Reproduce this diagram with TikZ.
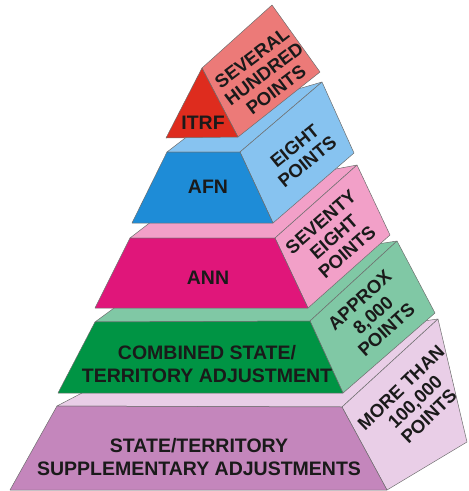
\documentclass[tikz,border=0pt]{standalone}
\usepackage{fontspec}
\setmainfont{Liberation Sans}
\definecolor{ink}{RGB}{26,26,26}
\definecolor{edge}{RGB}{110,110,110}
\definecolor{plumFront}{RGB}{196,134,188}
\definecolor{plumLight}{RGB}{233,206,231}
\definecolor{greenFront}{RGB}{0,148,68}
\definecolor{greenLight}{RGB}{128,200,165}
\definecolor{roseFront}{RGB}{224,22,122}
\definecolor{roseLight}{RGB}{242,160,200}
\definecolor{blueFront}{RGB}{30,140,215}
\definecolor{blueLight}{RGB}{135,195,240}
\definecolor{redFront}{RGB}{222,44,30}
\definecolor{redLight}{RGB}{236,122,120}
\begin{document}
\begin{tikzpicture}[x=1pt,y=-1pt,
  face/.style={draw=edge, line width=0.5pt, line join=round},
  frontlabel/.style={font=\bfseries\fontsize{19.5}{23.5}\selectfont, text=ink, align=center, inner sep=0pt},
  sidelabel/.style={font=\bfseries\fontsize{18.5}{20}\selectfont, text=ink, align=center, inner sep=0pt},
]
\useasboundingbox (0,0) rectangle (469,491);

% level 5: state/territory supplementary adjustments
\path[face, fill=plumLight] (57,406) -- (342,407) -- (438,319) -- (149,358) -- cycle;
\path[face, fill=plumLight] (342,407) -- (387,490) -- (467,442) -- (438,319) -- cycle;
\path[face, fill=plumFront] (10,490) -- (387,490) -- (342,407) -- (57,406) -- cycle;
\node[frontlabel] (stsa) at (199,457) {STATE/TERRITORY\\SUPPLEMENTARY ADJUSTMENTS};
\node[sidelabel, rotate=44] (stsaN) at (415,402) {MORE THAN\\100,000\\POINTS};

% level 4: combined state/territory adjustment
\path[face, fill=greenLight] (95,322) -- (310,321) -- (397,241) -- (155,278) -- cycle;
\path[face, fill=greenLight] (310,321) -- (343,393) -- (435,313) -- (397,241) -- cycle;
\path[face, fill=greenFront] (58,393) -- (343,393) -- (310,321) -- (95,322) -- cycle;
\node[frontlabel] (csta) at (207,364) {COMBINED STATE/\\TERRITORY ADJUSTMENT};
\node[sidelabel, rotate=42] (cstaN) at (373,315) {APPROX\\8,000\\POINTS};

% level 3: ANN
\path[face, fill=roseLight] (130,238) -- (275,238) -- (357,165) -- (182,198) -- cycle;
\path[face, fill=roseLight] (275,238) -- (308,308) -- (390,235) -- (357,165) -- cycle;
\path[face, fill=roseFront] (95,308) -- (308,308) -- (275,238) -- (130,238) -- cycle;
\node[frontlabel] (ann) at (208,278) {ANN};
\node[sidelabel, rotate=41] (annN) at (334,237) {SEVENTY\\EIGHT\\POINTS};

% level 2: AFN
\path[face, fill=blueLight] (167,152) -- (240,152) -- (322,82) -- (219,112) -- cycle;
\path[face, fill=blueLight] (240,152) -- (273,223) -- (354,153) -- (322,82) -- cycle;
\path[face, fill=blueFront] (132,223) -- (273,223) -- (240,152) -- (167,152) -- cycle;
\node[frontlabel] (afn) at (208,187) {AFN};
\node[sidelabel, rotate=39] (afnN) at (301,154) {EIGHT\\POINTS};

% level 1: ITRF
\path[face, fill=redLight] (202,68) -- (238,137) -- (320,72) -- (272,5) -- cycle;
\path[face, fill=redFront] (166,138) -- (238,137) -- (202,68) -- cycle;
\node[frontlabel] (itrf) at (203,123) {ITRF};
\node[sidelabel, rotate=37] (itrfN) at (264,74) {SEVERAL\\HUNDRED\\POINTS};
\end{tikzpicture}
\end{document}
